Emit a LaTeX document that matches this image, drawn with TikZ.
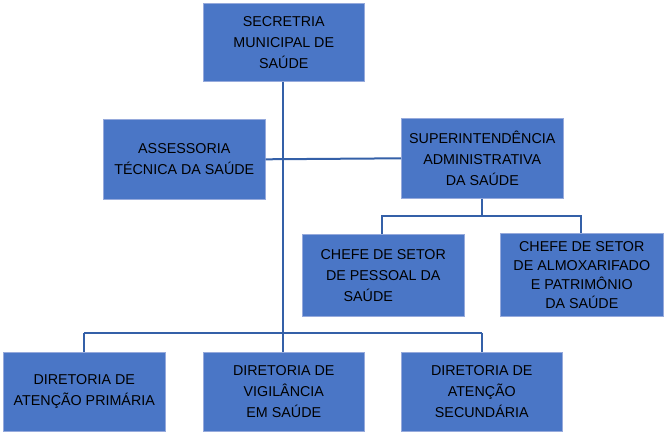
\documentclass[tikz,border=0pt]{standalone}
\usepackage{fontspec}
\setmainfont{Liberation Sans}
\definecolor{boxfill}{RGB}{74,118,198}
\definecolor{boxline}{RGB}{150,170,220}
\definecolor{linkc}{RGB}{52,96,168}
\begin{document}
\begin{tikzpicture}[x=1pt,y=-1pt,
  orgbox/.style={draw=boxline, line width=0.6pt, fill=boxfill, align=center,
    font=\fontsize{14.3}{21}\selectfont, inner sep=0pt, anchor=north west},
  link/.style={draw=linkc, line width=2pt}]
\useasboundingbox (0,0) rectangle (667,434);
\node[orgbox, minimum width=161pt, minimum height=78pt] (sec) at (203,3) {SECRETRIA\\MUNICIPAL DE\\SAÚDE};
\node[orgbox, minimum width=162pt, minimum height=80pt] (ass) at (103,119) {ASSESSORIA\\TÉCNICA DA SAÚDE};
\node[orgbox, minimum width=162pt, minimum height=80pt] (sup) at (401,118) {SUPERINTENDÊNCIA\\ADMINISTRATIVA\\DA SAÚDE};
\node[orgbox, minimum width=162pt, minimum height=82pt] (pes) at (302,234) {CHEFE DE SETOR\\DE PESSOAL DA\\SAÚDE\hspace*{30pt}};
\node[orgbox, minimum width=163pt, minimum height=83pt, font=\fontsize{14.3}{19}\selectfont] (alm) at (500,233) {CHEFE DE SETOR\\DE ALMOXARIFADO\\E PATRIMÔNIO\\DA SAÚDE};
\node[orgbox, minimum width=162pt, minimum height=79pt] (pri) at (3,352) {DIRETORIA DE\\ATENÇÃO PRIMÁRIA};
\node[orgbox, minimum width=161pt, minimum height=79pt] (vig) at (203,352) {DIRETORIA DE\\VIGILÂNCIA\\EM SAÚDE};
\node[orgbox, minimum width=161pt, minimum height=79pt] (secd) at (401,352) {DIRETORIA DE\\ATENÇÃO\\SECUNDÁRIA};
\coordinate (busb) at (283,333);
\coordinate (busl) at (84,333);
\coordinate (busr) at (482,333);
\coordinate (bus2) at (482,216);
% main trunk
\draw[link] (sec.south -| busb) -- (busb);
\draw[link] (ass.east) -- (sup.west);
\draw[link] (busl) -- (busr);
\draw[link] (busl) -- (busl |- pri.north);
\draw[link] (busb) -- (vig.north -| busb);
\draw[link] (busr) -- (busr |- secd.north);
% superintendencia branch
\draw[link] (sup.south -| bus2) -- (bus2);
\draw[link] (pes.north -| 382,0) -- (382,216) -- (581,216) -- (alm.north -| 581,0);
\end{tikzpicture}
\end{document}
